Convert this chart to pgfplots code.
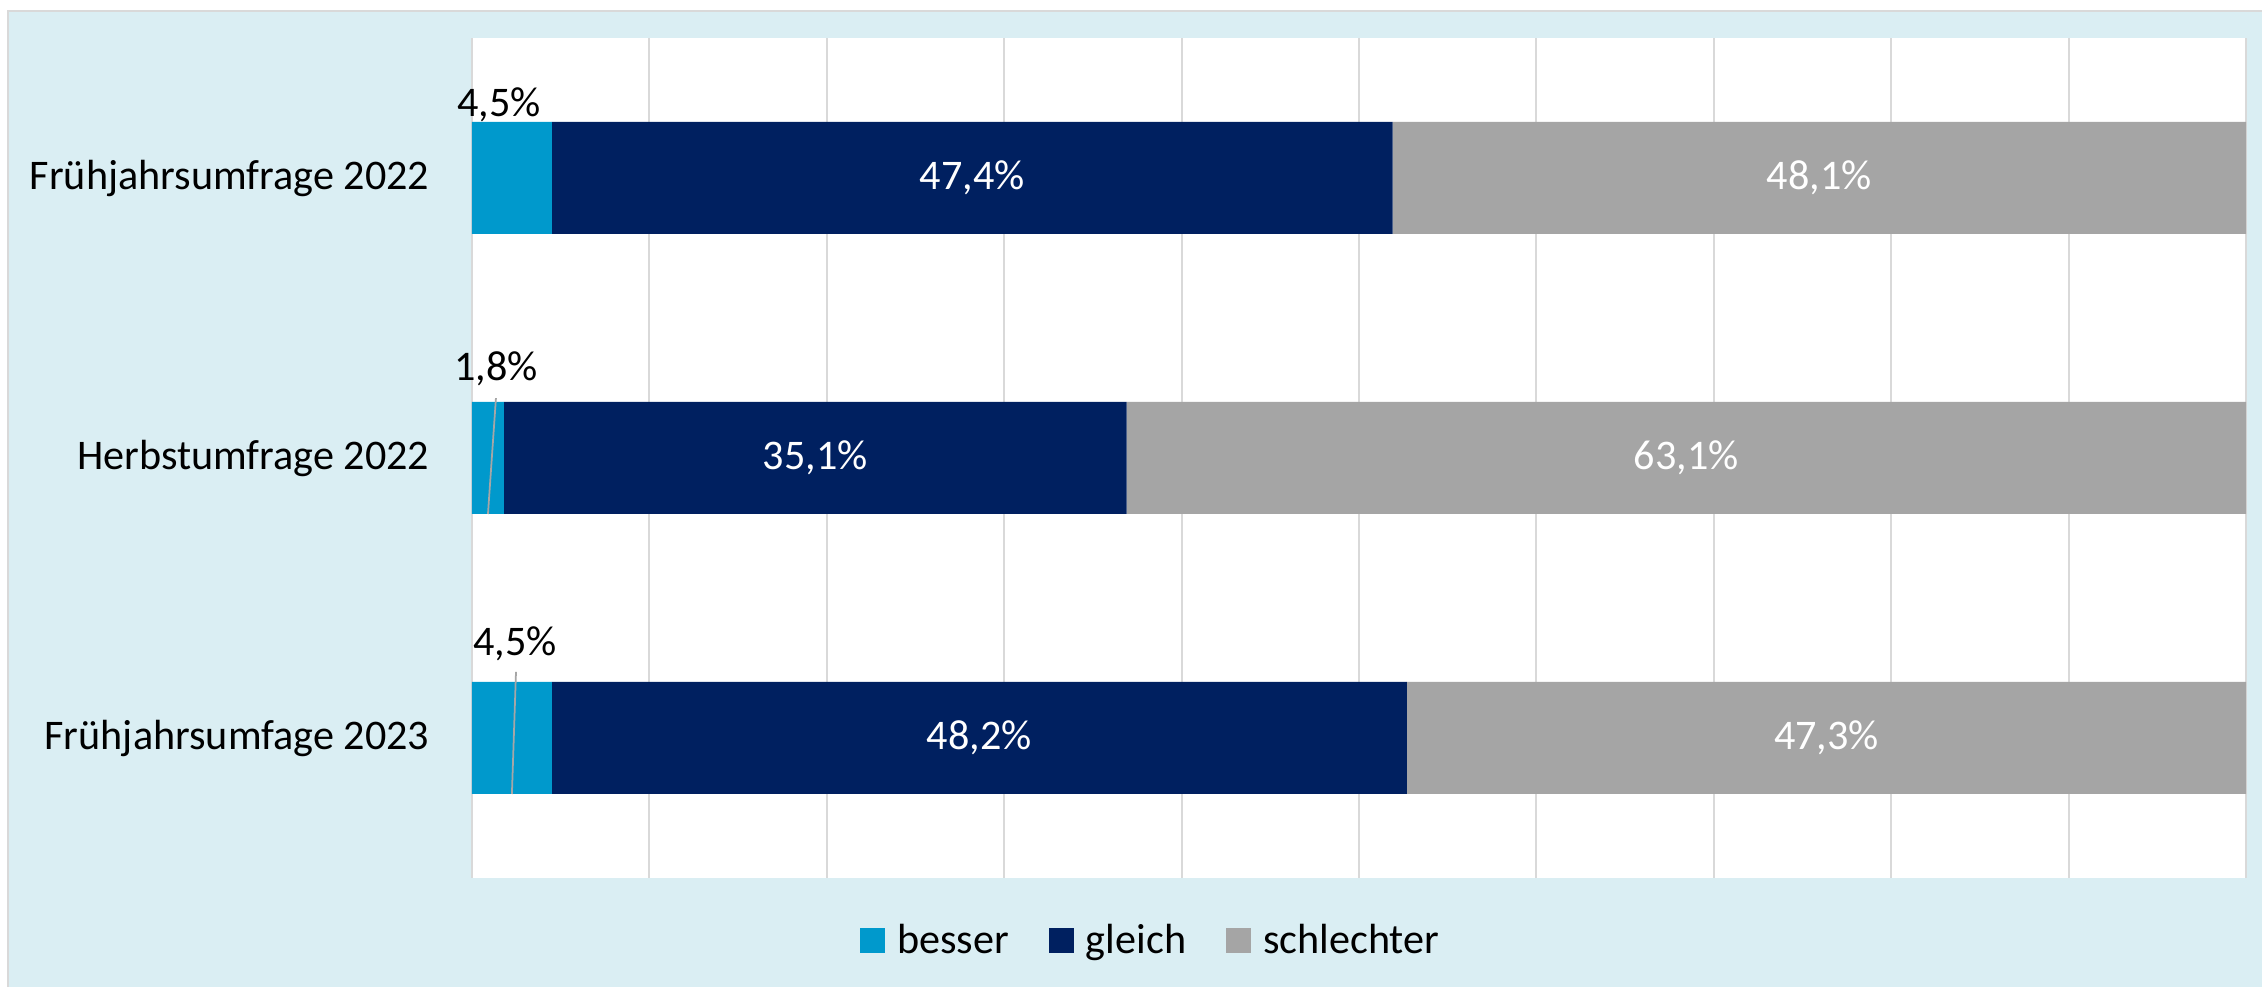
\documentclass[border=0pt]{standalone}
\usepackage{fontspec}
\setmainfont{Carlito}
\usepackage{pgfplots}
\pgfplotsset{compat=1.18}
\definecolor{bgblue}{HTML}{DAEEF3}
\definecolor{cbesser}{HTML}{0099CC}
\definecolor{cgleich}{HTML}{002060}
\definecolor{cschlecht}{HTML}{A5A5A5}
\definecolor{gridgray}{HTML}{D9D9D9}
\definecolor{leader}{HTML}{A6A6A6}

\begin{document}
\begin{tikzpicture}[font=\fontsize{12}{14}\selectfont]
% panel background
\fill[bgblue] (0.08,0) rectangle (22.62,9.76);
\draw[gridgray, line width=0.5pt] (0.08,0) -- (0.08,9.76) -- (22.62,9.76);
\begin{axis}[
  at={(4.72cm,1.09cm)}, anchor=south west,
  scale only axis, width=17.74cm, height=8.40cm,
  xbar stacked, bar width=1.12cm,
  xmin=0, xmax=100, ymin=-0.5, ymax=2.5,
  clip=false,
  axis background/.style={fill=white},
  axis line style={draw=none},
  major tick length=0pt,
  xtick={0,10,...,100}, xticklabels={},
  xmajorgrids, grid style={gridgray, line width=0.6pt},
  ytick={0,1,2},
  yticklabels={Frühjahrsumfage 2023, Herbstumfrage 2022, Frühjahrsumfrage 2022},
  yticklabel style={inner sep=0pt, xshift=-0.42cm, anchor=east},
  visualization depends on={rawx \as \rawx},
  every node near coord/.append style={anchor=center, white},
  legend style={draw=none, fill=none, at={(0.384,-0.075)}, anchor=center,
    legend columns=-1, /tikz/every even column/.append style={column sep=0.33cm},
    font=\fontsize{12}{14}\selectfont},
  legend image code/.code={\fill[#1] (0cm,-0.125cm) rectangle (0.25cm,0.125cm);
    \path (0.30cm,0);},
]
\addplot[fill=cbesser, draw=none] coordinates {(4.5,2) (1.8,1) (4.5,0)};
\addplot[fill=cgleich, draw=none,
  nodes near coords={\pgfmathprintnumber[use comma,fixed,precision=1,fixed zerofill,assume math mode=true]{\rawx}\%}]
  coordinates {(47.4,2) (35.1,1) (48.2,0)};
\addplot[fill=cschlecht, draw=none,
  nodes near coords={\pgfmathprintnumber[use comma,fixed,precision=1,fixed zerofill,assume math mode=true]{\rawx}\%}]
  coordinates {(48.1,2) (63.1,1) (47.3,0)};
\legend{besser, gleich, schlechter}
% anchor points for the outside labels of the small "besser" segments
\coordinate (l1) at (axis cs:1.52,2.26);
\coordinate (l2) at (axis cs:1.35,1.32);
\coordinate (l3) at (axis cs:2.42,0.336);
\coordinate (a2) at (axis cs:1.35,1.214);
\coordinate (b2) at (axis cs:0.9,0.8);
\coordinate (a3) at (axis cs:2.48,0.236);
\coordinate (b3) at (axis cs:2.25,-0.2);
\end{axis}
\draw[leader, line width=0.5pt] (a2) -- (b2);
\draw[leader, line width=0.5pt] (a3) -- (b3);
\node[anchor=center, inner sep=0pt] at (l1) {4,5\%};
\node[anchor=center, inner sep=0pt] at (l2) {1,8\%};
\node[anchor=center, inner sep=0pt] at (l3) {4,5\%};
\pgfresetboundingbox
\useasboundingbox (0,0) rectangle (22.62,9.87);
\end{tikzpicture}
\end{document}
